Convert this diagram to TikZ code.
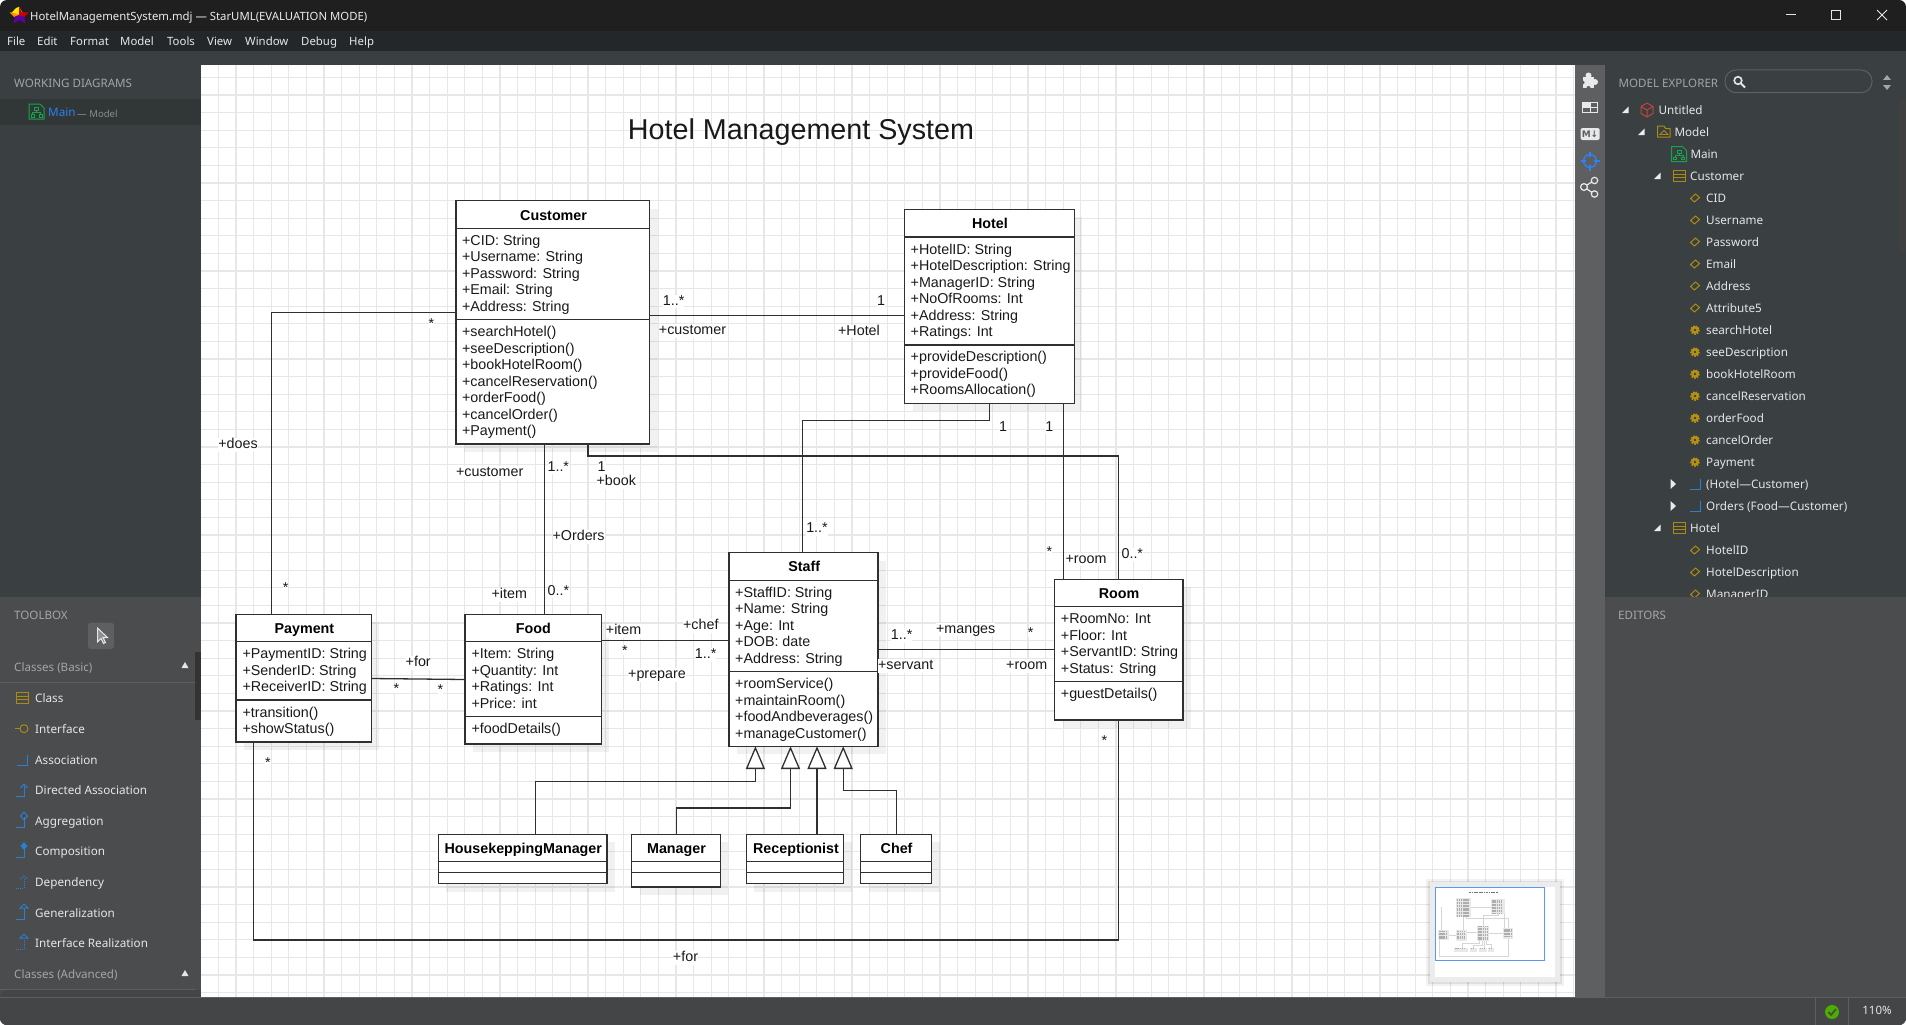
\documentclass[tikz,border=0pt]{standalone}
\usepackage{fontspec}
\setmainfont{Liberation Sans}
\newfontfamily\umlf{Liberation Sans}
\newfontfamily\uif{Noto Sans}
\newfontfamily\symf{DejaVu Sans}
\usetikzlibrary{arrows.meta,calc}
\definecolor{barc}{HTML}{1F1F1F}
\definecolor{menuc}{HTML}{23272A}
\definecolor{panelc}{HTML}{3A3F42}
\definecolor{hiliC}{HTML}{313636}
\definecolor{toolc}{HTML}{4B4C4E}
\definecolor{statc}{HTML}{444547}
\definecolor{stripc}{HTML}{5E5F61}
\definecolor{gridc}{HTML}{E7E7E7}
\definecolor{linec}{HTML}{303030}
\definecolor{uitext}{HTML}{E4E6E8}
\definecolor{uihead}{HTML}{A3A6A8}
\definecolor{goldc}{HTML}{A98A12}
\definecolor{gearc}{HTML}{B8920E}
\definecolor{bluec}{HTML}{2A7FD0}
\definecolor{greenc}{HTML}{17A34A}
\definecolor{tgtc}{HTML}{2F80F0}
\definecolor{cubec}{HTML}{C0453A}
\tikzset{
 classnode/.style={draw=linec,fill=white,line width=1.3pt,inner sep=0pt,outer sep=0pt,rectangle},
 sepline/.style={draw=linec,line width=1.3pt},
 shadowbox/.style={fill=black,fill opacity=0.055},
 member/.style={anchor=west,inner sep=0pt,yshift=-1.2pt,text=black!90,text height=10.5pt,text depth=3pt,font=\umlf\fontsize{14.3}{16}\selectfont},
 ctitle/.style={inner sep=0pt,yshift=-1.2pt,text=black,text height=10.5pt,text depth=3pt,font=\umlf\bfseries\fontsize{14.3}{16}\selectfont},
 lab/.style={fill=white,inner sep=0pt,yshift=-1.2pt,text=black!90,text height=10.5pt,text depth=3pt,font=\umlf\fontsize{14.3}{16}\selectfont},
 starlab/.style={lab,text height=5pt,text depth=0pt},
 assoc/.style={draw=linec,line width=1.3pt},
 gen/.style={draw=linec,line width=1.3pt,-{Triangle[length=22.7pt,width=19pt,fill=white]}},
 uit/.style={anchor=west,inner sep=0pt,yshift=-1.5pt,text=uitext,text height=9pt,text depth=2.5pt,font=\uif\fontsize{11.7}{14}\selectfont},
 uih/.style={anchor=west,inner sep=0pt,yshift=-1.5pt,text=uihead,text height=9pt,text depth=2.5pt,font=\uif\fontsize{11.6}{14}\selectfont},
 uimenu/.style={anchor=west,inner sep=0pt,yshift=-1pt,text=uitext,text height=9pt,text depth=2.5pt,font=\uif\fontsize{11.4}{14}\selectfont},
}
\newcommand{\classbox}[7]{%
 \fill[shadowbox] (#2+8,#3+8) rectangle (#4+8,#5+8);
 \pgfmathsetmacro\bw{#4-#2}\pgfmathsetmacro\bh{#5-#3}
 \node[classnode,anchor=north west,minimum width=\bw pt,minimum height=\bh pt] (#1) at (#2,#3) {};
 \draw[sepline] (#1.west |- 0,#6) -- (#1.east |- 0,#6);
 \draw[sepline] (#1.west |- 0,#7) -- (#1.east |- 0,#7);
}
\newcommand{\members}[3]{\foreach \yy/\mtext [count=\ii] in {#3} {\node[member] (#1m\ii) at (#2,\yy) {\mtext};}}
\newcommand{\iconclass}[2]{\draw[goldc,line width=1pt] (#1-6,#2-5.5) rectangle (#1+6,#2+5.5) (#1-6,#2-1.8) -- (#1+6,#2-1.8) (#1-6,#2+1.8) -- (#1+6,#2+1.8);}
\newcommand{\iconattr}[2]{\draw[goldc,line width=1pt] (#1-4.5,#2+.5) -- (#1+.5,#2-4) -- (#1+4.5,#2-.5) -- (#1-.5,#2+4) -- cycle;}
\newcommand{\iconop}[2]{\fill[gearc] (#1,#2) circle (3.8); \draw[gearc,line width=1.5pt,dash pattern=on 1.6pt off 1.2pt] (#1,#2) circle (4.1); \fill[panelc] (#1,#2) circle (1.4);}
\newcommand{\iconassoc}[2]{\draw[bluec,line width=1pt] (#1+5,#2-5.5) -- (#1+5,#2+5) -- (#1-5,#2+5);}
\newcommand{\icondiag}[2]{\draw[greenc,line width=1pt] (#1-7.5,#2-7.5) -- (#1+3.5,#2-7.5) -- (#1+7.5,#2-3.5) -- (#1+7.5,#2+7.5) -- (#1-7.5,#2+7.5) -- cycle;
 \draw[greenc,line width=.9pt] (#1-2,#2-4) rectangle (#1+2,#2-1) (#1,#2-1) -- (#1,#2+1) (#1-4,#2+3) -- (#1-4,#2+1) -- (#1+4,#2+1) -- (#1+4,#2+3) (#1-5.5,#2+3) rectangle (#1-2.5,#2+5.5) (#1+2.5,#2+3) rectangle (#1+5.5,#2+5.5);}
\newcommand{\treedown}[2]{\fill[uitext!75] (#1+3.5,#2-3.5) -- (#1+3.5,#2+3) -- (#1-3,#2+3) -- cycle;}
\newcommand{\treeright}[2]{\fill[uitext!85] (#1-2.5,#2-5) -- (#1+3,#2) -- (#1-2.5,#2+5) -- cycle;}
\newcommand{\lshape}[2]{(#1-8,#2+6) -- (#1,#2+6) -- (#1,#2-4)}
\begin{document}
\begin{tikzpicture}[x=1pt,y=-1pt]
\useasboundingbox (0,0) rectangle (1906,1025);
\fill[white] (0,0) rectangle (1906,1025);
% window base
\fill[barc,rounded corners=7pt] (0,0) rectangle (1906,1025);
\fill[menuc] (0,31) rectangle (1906,51);
\fill[panelc] (0,51) rectangle (1906,65);
\fill[panelc] (0,65) rectangle (201,597);
\fill[hiliC] (0,99) rectangle (201,125);
\fill[toolc] (0,597) rectangle (201,997);
\fill[statc,rounded corners=7pt] (0,990) rectangle (1906,1025);
\fill[statc] (0,997) rectangle (1906,1010);
\fill[white] (201,65) rectangle (1575,997);
\fill[stripc] (1575,65) rectangle (1605,997);
\fill[panelc] (1605,51) rectangle (1906,597);
% grid
\foreach \k in {0,...,77} {\pgfmathsetmacro\gx{218.3+17.6*\k}\draw[gridc,line width=1.2pt] (\gx,65) -- (\gx,997);}
\foreach \k in {0,...,52} {\pgfmathsetmacro\gy{77.3+17.6*\k}\draw[gridc,line width=1.2pt] (201,\gy) -- (1575,\gy);}
% title bar
\fill[orange!90!yellow] (9.5,12.5) -- (16,12.5) -- (19,7) -- (23,13) -- (19,19) -- (13.5,16.5) -- cycle;
\fill[yellow!90!orange] (16,8) -- (19,7) -- (20.5,15) -- (12,12.5) -- cycle;
\fill[red!80!black] (19,7) -- (22,12.5) -- (29,12.5) -- (24,17) -- (19,15) -- cycle;
\fill[violet!75!blue] (19,15) -- (24.5,17) -- (25.5,23.5) -- (19.5,20) -- (13.5,23.5) -- (15,16.5) -- cycle;
\node[uit,text=white!92!black,font=\uif\fontsize{11.35}{14}\selectfont] (wintitle) at (30,16) {HotelManagementSystem.mdj — StarUML(EVALUATION MODE)};
\draw[white!90!black,line width=1pt] (1786,15) -- (1796,15);
\draw[white!90!black,line width=1pt] (1831,10.5) rectangle (1840.5,20);
\draw[white!90!black,line width=1pt] (1877,10) -- (1887,20) (1887,10) -- (1877,20);
\foreach \mx/\mt [count=\i] in {7/File,37/Edit,70/Format,120/Model,167/Tools,207/View,245/Window,301/Debug,349/Help} {\node[uimenu] (menu\i) at (\mx,41) {\mt};}
% left panel
\node[uih] (wd) at (14,82.5) {WORKING DIAGRAMS};
\icondiag{36.5}{111.5}
\node[uit,text=tgtc] (wmain) at (48,112) {Main};
\node[uih,text=uihead!85!black,font=\uif\fontsize{9.6}{12}\selectfont] (wmodel) at (77,112.5) {— Model};
% toolbox
\node[uih] (tb) at (14,614.3) {TOOLBOX};
\fill[stripc,rounded corners=3pt] (88,622.7) rectangle (114,649);
\draw[uitext,line width=1pt,fill=stripc!70!white] (97.5,628) -- (97.5,642) -- (101,638.5) -- (103.5,643.5) -- (105.5,642.5) -- (103,637.5) -- (107.5,637.5) -- cycle;
\node[uih] (cb) at (14,666.7) {Classes (Basic)};
\fill[uitext] (185,662) -- (188.5,668) -- (181.5,668) -- cycle;
\draw[stripc,line width=.8pt] (0,682.3) -- (195,682.3);
\fill[black!80] (195,651.7) rectangle (201,720);
\node[uit] (t1) at (35,697.7) {Class};
\node[uit] (t2) at (35,728.7) {Interface};
\node[uit] (t3) at (35,759.7) {Association};
\node[uit] (t4) at (35,789.7) {Directed Association};
\node[uit] (t5) at (35,821) {Aggregation};
\node[uit] (t6) at (35,851) {Composition};
\node[uit] (t7) at (35,882) {Dependency};
\node[uit] (t8) at (35,912.7) {Generalization};
\node[uit] (t9) at (35,943) {Interface Realization};
\iconclass{22}{698}
\draw[goldc,line width=1pt] (15,728.7) -- (20,728.7); \draw[goldc,line width=1pt] (24,728.7) circle (4);
\iconassoc{22}{760}
\draw[bluec,line width=1pt] \lshape{24}{790}; \draw[bluec,line width=1pt] (20.5,788) -- (24,784) -- (27.5,788);
\draw[bluec,line width=1pt] \lshape{24}{821}; \draw[bluec,line width=1pt] (24,812) -- (27.5,816) -- (24,820) -- (20.5,816) -- cycle;
\draw[bluec,line width=1pt] \lshape{24}{851}; \fill[bluec] (24,842) -- (27.5,846) -- (24,850) -- (20.5,846) -- cycle;
\draw[bluec,line width=1pt,densely dotted] \lshape{24}{882}; \draw[bluec,line width=1pt,densely dotted] (20.5,879) -- (24,876) -- (27.5,879);
\draw[bluec,line width=1pt] \lshape{24}{913}; \draw[bluec,line width=1pt] (20,908) -- (24,904) -- (28,908) -- cycle;
\draw[bluec,line width=1pt,densely dotted] \lshape{24}{943}; \draw[bluec,line width=1pt] (20,938) -- (24,934) -- (28,938) -- cycle;
\node[uih] (ca) at (14,973.7) {Classes (Advanced)};
\fill[uitext] (185,970) -- (188.5,976) -- (181.5,976) -- cycle;
\draw[stripc,line width=.8pt] (0,989.3) -- (195,989.3);
\draw[stripc,line width=.8pt] (0,997) -- (1906,997);
% model explorer
\node[uih] (me) at (1618.3,82.3) {MODEL EXPLORER};
\draw[stripc,line width=1pt,rounded corners=11pt] (1725,70) rectangle (1872,92.7);
\draw[uitext,line width=1.6pt] (1738,80.5) circle (3.8); \draw[uitext,line width=1.8pt] (1741,83.5) -- (1745,87.5);
\fill[uihead] (1887,75) -- (1891,80) -- (1883,80) -- cycle;
\fill[uihead] (1887,90) -- (1891,85) -- (1883,85) -- cycle;
\fill[black!75] (1899,99) rectangle (1906,251);
\foreach \ty/\tx/\tt [count=\i] in {109.7/1658.3/Untitled,131.7/1674.3/Model,153.7/1690.3/Main,175.7/1690/Customer,197.7/1706/CID,220/1706/Username,242/1706/Password,264/1706/Email,286/1706/Address,308/1706/Attribute5,330/1706/searchHotel,352/1706/seeDescription,374/1706/bookHotelRoom,396/1706/cancelReservation,418/1706/orderFood,440/1706/cancelOrder,462/1706/Payment,484/1706/(Hotel—Customer),506/1706/Orders (Food—Customer),528/1690/Hotel,550/1706/HotelID,572/1706/HotelDescription,594/1706/ManagerID} {\node[uit] (tree\i) at (\tx,\ty) {\tt};}
\treedown{1625}{110}\treedown{1641}{132}\treedown{1657}{176}\treedown{1657}{528}
\treeright{1673}{484}\treeright{1673}{506}
\draw[cubec,line width=1pt,line join=round] (1647,103) -- (1653,106.5) -- (1653,113.5) -- (1647,117) -- (1641,113.5) -- (1641,106.5) -- cycle (1641,106.5) -- (1647,110) -- (1653,106.5) (1647,110) -- (1647,117);
\draw[goldc,line width=1pt] (1657.5,137) -- (1657.5,126) -- (1664,126) -- (1665.5,128.5) -- (1670,128.5) -- (1670,137) -- cycle;
\draw[goldc,line width=.8pt] (1660,134.5) -- (1664,130.5) -- (1668,134.5) -- cycle;
\icondiag{1679}{154}
\iconclass{1679}{176}
\foreach \ay in {198,220,242,264,286,308,550,572,594} {\iconattr{1695}{\ay}}
\foreach \oy in {330,352,374,396,418,440,462} {\iconop{1695}{\oy}}
\iconassoc{1695}{484}\iconassoc{1695}{506}
\iconclass{1679}{528}
\fill[toolc] (1605,597) rectangle (1906,997);
\node[uih] (ed) at (1618,614.7) {EDITORS};
% tool strip
\fill[uitext!90] (1583,77) rectangle (1594,87.5);
\fill[uitext!90] (1588.5,75.5) circle (3) (1595,82) circle (3);
\fill[stripc] (1582.5,82.5) circle (2) (1588.5,88) circle (2);
\draw[uitext!90,line width=1pt] (1582.5,102) rectangle (1597.5,112.5) (1590,102) -- (1590,112.5) (1582.5,107.5) -- (1597.5,107.5); \fill[uitext!90] (1582.5,102) rectangle (1590,107.5);
\node[fill=uitext!90,rounded corners=1.5pt,inner sep=0pt,minimum width=19pt,minimum height=12pt,text=stripc,font=\symf\bfseries\fontsize{9}{10}\selectfont] (mdicon) at (1590,134) {M↓};
\draw[tgtc,line width=1.4pt] (1590,161) circle (6.5); \draw[tgtc,line width=1.8pt] (1590,151.5) -- (1590,157) (1590,165) -- (1590,170.5) (1580.5,161) -- (1586,161) (1594,161) -- (1599.5,161);
\draw[uitext!90,line width=1.2pt] (1594.5,180.5) circle (3.2) (1594.5,194) circle (3.2) (1584,187) circle (3.4) (1587,185) -- (1591.7,182) (1587,189) -- (1591.7,192.3);
% status
\draw[stripc,line width=.8pt] (1815.7,997) -- (1815.7,1025) (1848.7,997) -- (1848.7,1025);
\fill[green!55!black!70!yellow] (1832,1012) circle (7);
\draw[statc,line width=1.6pt] (1828.5,1012) -- (1831,1015) -- (1836,1009);
\node[uit,anchor=center,yshift=1.5pt,font=\uif\fontsize{11.5}{13}\selectfont] (zoomlvl) at (1877,1011) {110\%};
%%%%% DIAGRAM
\node[inner sep=0pt,text=black!90,font=\umlf\fontsize{28.7}{32}\selectfont] (title) at (801,132.5) {Hotel Management System};
\classbox{cust}{456}{200.7}{649.6}{444}{228.3}{319.3}
\classbox{hotel}{904.6}{209.3}{1074.3}{403.3}{237}{345}
\classbox{pay}{236}{614.3}{371.3}{742}{641.7}{700}
\classbox{food}{465}{614.3}{601.3}{744}{641.7}{716.3}
\classbox{staff}{729}{552.7}{878}{746.3}{580.7}{671.3}
\classbox{room}{1054.7}{579.3}{1183}{720}{606.7}{681.3}
\classbox{hk}{438.3}{834.3}{607}{883.7}{861.7}{872.7}
\classbox{mgr}{631.8}{834.3}{720.3}{887}{861.7}{872.7}
\classbox{recp}{746.4}{834.3}{843.6}{883.7}{861.7}{872.7}
\classbox{chef}{860.8}{834.3}{931.7}{883.7}{861.7}{872.7}
\node[ctitle] (custt) at (553.6,215.3) {Customer};
\node[ctitle] (hotelt) at (990,223.3) {Hotel};
\node[ctitle] (payt) at (304.4,628.3) {Payment};
\node[ctitle] (foodt) at (533.4,628.3) {Food};
\node[ctitle] (stafft) at (804.3,567) {Staff};
\node[ctitle] (roomt) at (1119,593.3) {Room};
\node[ctitle] (hkt) at (523.3,848.3) {HousekeppingManager};
\node[ctitle] (mgrt) at (676.5,848.3) {Manager};
\node[ctitle] (recpt) at (796,848.3) {Receptionist};
\node[ctitle] (cheft) at (896.6,848.3) {Chef};
\members{cust}{461.9}{240.7/+CID: String,256.7/+Username: String,273.3/+Password: String,289.3/+Email: String,306.3/+Address: String,331.7/+searchHotel(),348.3/+seeDescription(),364.7/+bookHotelRoom(),381.3/+cancelReservation(),397.7/+orderFood(),414.3/+cancelOrder(),430.7/+Payment()}
\members{hotel}{910.5}{249.3/+HotelID: String,265.7/+HotelDescription: String,282.3/+ManagerID: String,298.7/+NoOfRooms: Int,315.3/+Address: String,331.7/+Ratings: Int,356.7/+provideDescription(),373.3/+provideFood(),389.3/+RoomsAllocation()}
\members{pay}{242.3}{653.7/+PaymentID: String,670.3/+SenderID: String,687/+ReceiverID: String,712.3/+transition(),728.7/+showStatus()}
\members{food}{471.3}{653.7/+Item: String,670.3/+Quantity: Int,686.7/+Ratings: Int,703.3/+Price: int,728.7/+foodDetails()}
\members{staff}{735}{592.7/+StaffID: String,608.7/+Name: String,625.3/+Age: Int,641.7/+DOB: date,658.3/+Address: String,683.7/+roomService(),700.3/+maintainRoom(),716.7/+foodAndbeverages(),733.3/+manageCustomer()}
\members{room}{1060.7}{618.3/+RoomNo: Int,635.3/+Floor: Int,651.7/+ServantID: String,668.3/+Status: String,693.3/+guestDetails()}
% connectors
\draw[assoc] (cust.east |- 0,315.3) -- (hotel.west |- 0,315.3);
\draw[assoc] (cust.west |- 0,312.7) -- (271.3,312.7) -- (271.3,0 |- pay.north);
\draw[assoc] (544.5,0 |- cust.south) -- (544.5,0 |- food.north);
\draw[assoc] (588,0 |- cust.south) -- (588,456) -- (1118.3,456) -- (1118.3,0 |- room.north);
\draw[assoc] (989.7,0 |- hotel.south) -- (989.7,420.3) -- (802.7,420.3) -- (802.7,0 |- staff.north);
\draw[assoc] (1063.3,0 |- hotel.south) -- (1063.3,0 |- room.north);
\draw[assoc] (pay.east |- 0,678.5) -- (food.west |- 0,679.5);
\draw[assoc] (food.east |- 0,640.3) -- (staff.west |- 0,640.3);
\draw[assoc] (staff.east |- 0,649.3) -- (room.west |- 0,649.3);
\draw[assoc] (253.5,0 |- pay.south) -- (253.5,940) -- (1118.3,940) -- (1118.3,0 |- room.south);
\draw[gen] (535.4,0 |- hk.north) -- (535.4,781.7) -- (755.4,781.7) -- (755.4,0 |- staff.south);
\draw[gen] (676.2,0 |- mgr.north) -- (676.2,808) -- (790.5,808) -- (790.5,0 |- staff.south);
\draw[gen] (817,0 |- recp.north) -- (817,0 |- staff.south);
\draw[gen] (896.6,0 |- chef.north) -- (896.6,790.3) -- (843.2,790.3) -- (843.2,0 |- staff.south);
% connector labels
\foreach \lx/\ly/\lt [count=\i] in {673.6/300.3/1..*,881/300.3/1,692.5/329.7/+customer,859/330.3/+Hotel,1003/426.3/1,1049.4/426.3/1,489.7/471.7/+customer,558.3/466.3/1..*,601.6/466.3/1,616.3/480.7/+book,238/443.7/+does,578.6/536/+Orders,509.3/593.7/+item,558.4/590.3/0..*,623.6/629.7/+item,700.8/624.7/+chef,705.7/653.7/1..*,657/673.7/+prepare,418.2/661.7/+for,901.7/635/1..*,965.7/628.3/+manges,905.7/664.7/+servant,1026.7/664.7/+room,1086/558.3/+room,1132.3/554/0..*,685.5/956.7/+for,817/527.6/1..*} {\node[lab] (lab\i) at (\lx,\ly) {\lt};}
\foreach \lx/\ly [count=\i] in {431.5/324.6,285.6/588.3,625/651.7,396.3/689.7,440.5/691,267.8/763.7,1030.7/633.7,1049.3/552.3,1104.3/741.3} {\node[starlab] (star\i) at (\lx,\ly) {*};}
%%%%% MINIMAP
\fill[black,opacity=.05] (1426,878.5) rectangle (1564,986);
\fill[black,opacity=.08] (1428,880.5) rectangle (1562,984);
\fill[gridc!80!white] (1430,882.3) rectangle (1560,981.7);
\fill[white] (1435,887.3) rectangle (1555,977);
\begin{scope}[shift={(1419.54,882.42)},x=0.0794pt,y=-0.0782pt]
 \draw[black!55,line width=.7pt,dash pattern=on 1.2pt off .5pt] (617,130) -- (985,130);
 \foreach \pp in {{(271,313) -- (271,614)},{(544,444) -- (544,614)},{(588,444) -- (588,456) -- (1118,456) -- (1118,579)},{(990,403) -- (990,420) -- (803,420) -- (803,553)},{(1063,403) -- (1063,579)},{(650,315) -- (905,315)},{(371,679) -- (465,679)},{(601,640) -- (729,640)},{(878,649) -- (1055,649)},{(253,742) -- (253,940) -- (1118,940) -- (1118,720)},{(535,834) -- (535,782) -- (755,782) -- (755,746)},{(676,834) -- (676,808) -- (790,808) -- (790,746)},{(817,834) -- (817,746)},{(897,834) -- (897,790) -- (843,790) -- (843,746)}} {\draw[black!16,line width=.5pt] \pp;}
 \foreach \bl/\bt/\br/\bb/\rows in {456/200.7/649.6/444/13,904.6/209.3/1074.3/403.3/10,236/614.3/371.3/742/6,465/614.3/601.3/744/6,729/552.7/878/746.3/10,1054.7/579.3/1183/720/6,438.3/834.3/607/883.7/1,631.8/834.3/720.3/887/1,746.4/834.3/843.6/883.7/1,860.8/834.3/931.7/883.7/1} {
  \fill[black!9] (\bl,\bt) rectangle (\br,\bb);
  \foreach \rr in {1,...,\rows} {\pgfmathsetmacro\ry{\bt+18.5*\rr-4}\draw[black!32,line width=.7pt,dash pattern=on 1.5pt off .6pt] (\bl+12,\ry) -- (\br-28,\ry);}
 }
\end{scope}
\draw[tgtc!80!white,line width=1pt] (1435.5,887.5) rectangle (1544.6,960.4);
\end{tikzpicture}
\end{document}
